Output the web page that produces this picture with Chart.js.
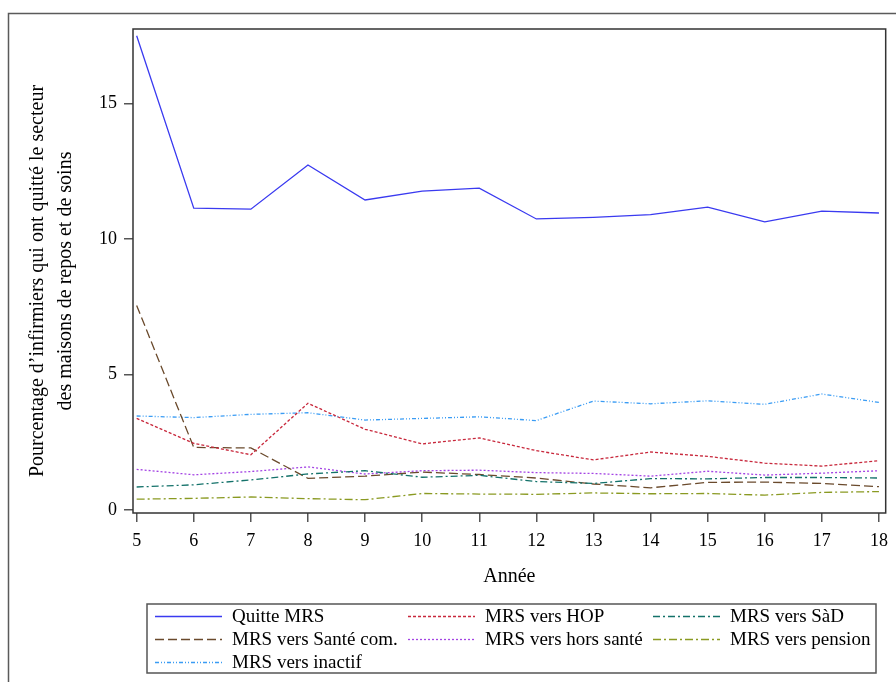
<!DOCTYPE html>
<html lang="fr">
<head>
<meta charset="utf-8">
<title>Départs des infirmiers MRS</title>
<script src="https://cdn.jsdelivr.net/npm/chart.js@4/dist/chart.umd.min.js"></script>
<style>
  html, body { margin: 0; padding: 0; background: #fff; }
  canvas { display: block; }
</style>
</head>
<body>
<canvas id="c" width="896" height="682"></canvas>
<script>
// Years since start (x axis)
const years = [5, 6, 7, 8, 9, 10, 11, 12, 13, 14, 15, 16, 17, 18];
const xTicks = [5, 6, 7, 8, 9, 10, 11, 12, 13, 14, 15, 16, 17, 18];
const yTicks = [0, 5, 10, 15];

// Percentage of nurses leaving the nursing-home sector, by destination
const quitteMRS  = [17.5, 11.14, 11.1, 12.73, 11.44, 11.77, 11.88, 10.74, 10.8, 10.9, 11.18, 10.63, 11.03, 10.96];
const versHOP    = [3.38, 2.46, 2.04, 3.94, 2.98, 2.44, 2.66, 2.19, 1.85, 2.14, 1.98, 1.73, 1.62, 1.82];
const versSaD    = [0.85, 0.93, 1.11, 1.33, 1.45, 1.21, 1.28, 1.05, 0.98, 1.16, 1.15, 1.20, 1.20, 1.18];
const versSante  = [7.55, 2.31, 2.29, 1.17, 1.25, 1.40, 1.31, 1.18, 0.96, 0.82, 1.02, 1.03, 0.98, 0.86];
const versHors   = [1.50, 1.30, 1.42, 1.59, 1.33, 1.45, 1.47, 1.38, 1.35, 1.25, 1.43, 1.29, 1.36, 1.45];
const versPension= [0.40, 0.43, 0.48, 0.42, 0.38, 0.61, 0.59, 0.58, 0.63, 0.60, 0.61, 0.55, 0.65, 0.68];
const versInactif= [3.47, 3.41, 3.53, 3.59, 3.32, 3.38, 3.44, 3.30, 4.02, 3.92, 4.03, 3.90, 4.28, 3.97];

const serif = '"Liberation Serif", "Times New Roman", serif';

function pts(values) {
  return years.map((yr, i) => ({ x: yr, y: values[i] }));
}

function series(label, values, color, dash) {
  return {
    label: label,
    data: pts(values),
    borderColor: color,
    backgroundColor: color,
    borderDash: dash,
    borderWidth: 1.3,
    pointRadius: 0,
    tension: 0,
    fill: false
  };
}

const datasets = [
  series('Quitte MRS', quitteMRS, '#3a3af0', []),
  series('MRS vers HOP', versHOP, '#c8283c', [3, 2]),
  series('MRS vers SàD', versSaD, '#14726a', [7, 3, 2, 3]),
  series('MRS vers Santé com.', versSante, '#6a4a2c', [9, 4]),
  series('MRS vers hors santé', versHors, '#a444e4', [2, 2]),
  series('MRS vers pension', versPension, '#8a9a22', [8, 3, 2, 3]),
  series('MRS vers inactif', versInactif, '#3a9cf4', [4, 2, 1, 2, 1, 2])
];

// Frame, axis titles and legend box
const decorations = {
  id: 'decorations',
  afterDraw(chart) {
    const ctx = chart.ctx;
    const a = chart.chartArea;
    ctx.save();

    // outer frame
    ctx.strokeStyle = '#5a5a5a';
    ctx.lineWidth = 1.5;
    ctx.strokeRect(8.5, 13.5, 900, 700);

    // plot frame
    ctx.strokeStyle = '#333';
    ctx.lineWidth = 1.5;
    ctx.strokeRect(a.left, a.top, a.right - a.left, a.bottom - a.top);

    // y axis title (two lines, rotated)
    ctx.fillStyle = '#000';
    ctx.font = '20px ' + serif;
    ctx.textAlign = 'center';
    ctx.textBaseline = 'middle';
    ctx.save();
    ctx.translate(38, 281);
    ctx.rotate(-Math.PI / 2);
    ctx.fillText('Pourcentage d\u2019infirmiers qui ont quitté le secteur', 0, 0);
    ctx.restore();
    ctx.save();
    ctx.translate(66, 281);
    ctx.rotate(-Math.PI / 2);
    ctx.fillText('des maisons de repos et de soins', 0, 0);
    ctx.restore();

    // x axis title
    ctx.fillText('Année', (a.left + a.right) / 2, 577);

    // legend
    ctx.strokeStyle = '#555';
    ctx.lineWidth = 1.5;
    ctx.strokeRect(147, 604, 729, 69);
    const cols = [155, 408, 653];
    const rows = [616, 639, 662];
    ctx.font = '19px ' + serif;
    ctx.textAlign = 'left';
    chart.data.datasets.forEach((ds, i) => {
      const x = cols[i % 3];
      const y = rows[Math.floor(i / 3)];
      ctx.strokeStyle = ds.borderColor;
      ctx.lineWidth = ds.borderWidth;
      ctx.setLineDash(ds.borderDash);
      ctx.beginPath();
      ctx.moveTo(x, y + 0.5);
      ctx.lineTo(x + 67, y + 0.5);
      ctx.stroke();
      ctx.setLineDash([]);
      ctx.fillStyle = '#000';
      ctx.fillText(ds.label, x + 77, y + 1);
    });
    ctx.restore();
  }
};

new Chart(document.getElementById('c'), {
  type: 'line',
  data: { datasets: datasets },
  options: {
    responsive: false,
    devicePixelRatio: 1,
    animation: false,
    layout: { padding: { top: 29, right: 5, left: 0, bottom: 0 } },
    plugins: { legend: { display: false }, tooltip: { enabled: false } },
    scales: {
      x: {
        type: 'linear',
        min: 4.936,
        max: 18.118,
        afterFit(scale) { scale.height = 169; },
        afterBuildTicks(scale) { scale.ticks = xTicks.map(v => ({ value: v })); },
        border: { display: false },
        grid: { drawOnChartArea: false, drawTicks: true, tickLength: 9, color: '#555', lineWidth: 1.5 },
        ticks: { color: '#000', font: { family: serif, size: 18 }, padding: 8, maxRotation: 0, autoSkip: false }
      },
      y: {
        type: 'linear',
        min: -0.11,
        max: 17.75,
        afterFit(scale) { scale.width = 133; },
        afterBuildTicks(scale) { scale.ticks = yTicks.map(v => ({ value: v })); },
        border: { display: false },
        grid: { drawOnChartArea: false, drawTicks: true, tickLength: 9, color: '#555', lineWidth: 1.5 },
        ticks: { color: '#000', font: { family: serif, size: 18 }, padding: 7 }
      }
    }
  },
  plugins: [decorations]
});
</script>
</body>
</html>
